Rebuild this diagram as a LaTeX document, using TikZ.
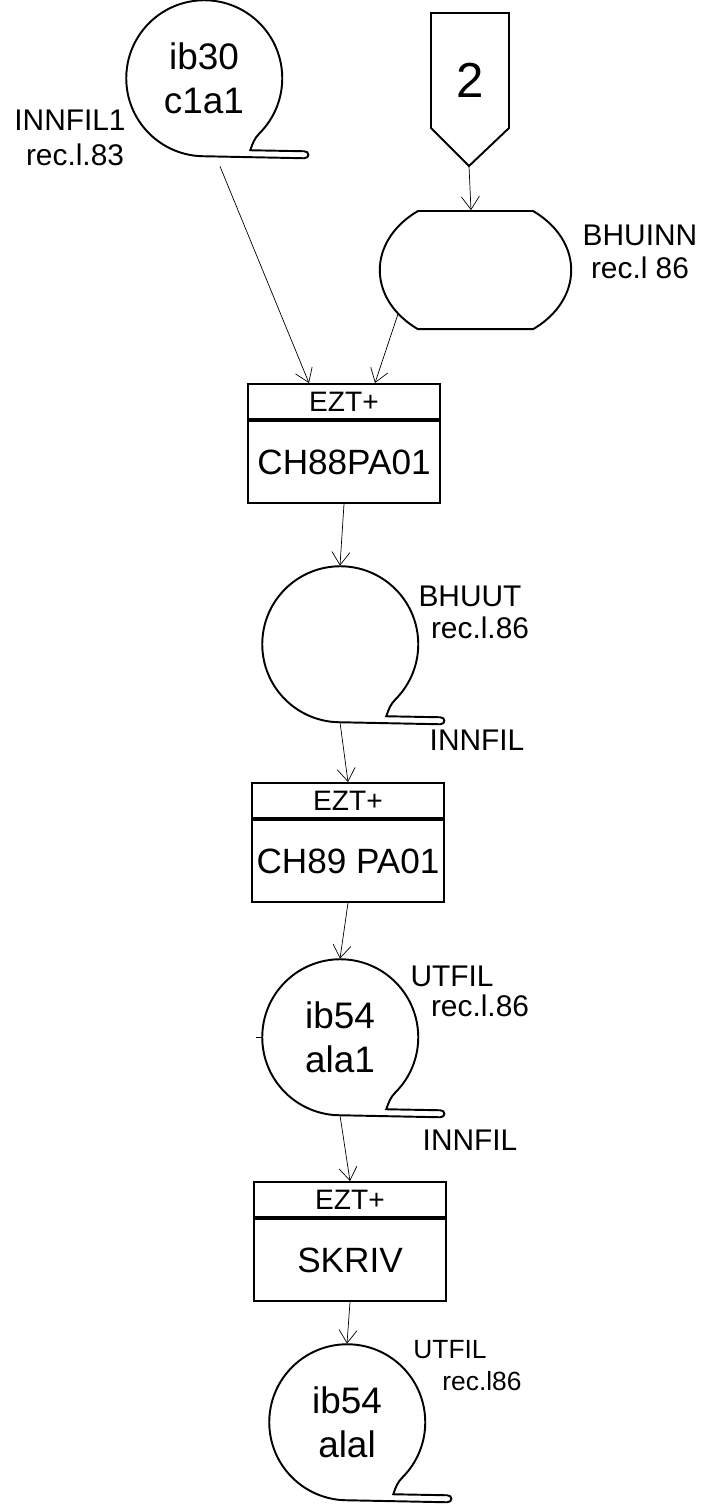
\documentclass[tikz,border=0pt]{standalone}
\usepackage{fontspec}
\setmainfont{Liberation Sans}
\usetikzlibrary{
    arrows.meta,
    calc,
    positioning
}
\tikzset{
    shape line/.style={line width=1.1pt},
    flow/.style={thin, -{Straight Barb[length=2.6mm,width=3.6mm]}},
    tape/.style={circle, minimum size=31.2mm, inner sep=0pt, align=center,
        font=\fontsize{21}{25}\selectfont},
    prog head/.style={draw, shape line, minimum width=38.5mm, minimum height=7mm,
        inner sep=0pt, font=\fontsize{16}{18}\selectfont},
    prog/.style={draw, shape line, minimum width=38.5mm, minimum height=16.4mm,
        inner sep=0pt, font=\fontsize{20}{22}\selectfont},
    lbl/.style={inner sep=0pt, font=\fontsize{17}{19}\selectfont}
}
\newcommand{\tapetail}[1]{%
    \draw[shape line] (#1.-45) arc[start angle=-45, end angle=270, radius=15.6mm]
        -- ++(100,-2) to[out=0, in=0, looseness=2] ++(0,7) -- ++(-54,1)
        to[out=70, in=-135] (#1.-45);}

\begin{document}
\begin{tikzpicture}[x=0.2mm, y=0.2mm]
    \useasboundingbox (0,0) rectangle (710,-1504);

    \node[tape] (t1) at (204,-78) {ib30\\c1a1};
    \node[tape] (t2) at (340,-644) {};
    \node[tape] (t3) at (340,-1037) {ib54\\ala1};
    \node[tape] (t4) at (347,-1422) {ib54\\alal};
    \tapetail{t1}
    \tapetail{t2}
    \tapetail{t3}
    \tapetail{t4}
    \draw ([xshift=-1.2mm]t3.west) -- (t3.west);

    \coordinate (c2 tip) at (469,-166);
    \draw[shape line] (431,-13) -- (509,-13) -- (509,-128) -- (c2 tip) -- (431,-128) -- cycle;
    \node[font=\fontsize{28}{30}\selectfont] (c2) at (470,-80) {2};

    \node[minimum width=38.4mm, minimum height=23.8mm] (bhuinn) at (476,-270) {};
    \draw[shape line] ($(bhuinn.center)+(-57,59)$) -- ($(bhuinn.center)+(57,59)$)
        arc[start angle=53, end angle=-53, x radius=19.2mm, y radius=14.8mm]
        -- ++(-115,0)
        arc[start angle=233, end angle=127, x radius=19.2mm, y radius=14.8mm] -- cycle;
    \coordinate (bhuinn out) at ($(bhuinn.center)+(-78,-44)$);

    \node[prog head] (h1) at (344,-401.5) {EZT+};
    \node[prog, below=0pt of h1] (p1) {CH88PA01};
    \node[prog head] (h2) at (348,-800.5) {EZT+};
    \node[prog, below=0pt of h2] (p2) {CH89 PA01};
    \node[prog head] (h3) at (350,-1199.5) {EZT+};
    \node[prog, below=0pt of h3] (p3) {SKRIV};

    \draw[flow] ([xshift=3.2mm,yshift=-2mm]t1.south) -- ([xshift=-7mm]h1.north);
    \draw[flow] (bhuinn out) -- ([xshift=6.2mm]h1.north);
    \draw[flow] (c2 tip) -- ([xshift=-1mm]bhuinn.north);
    \draw[flow] (p1.south) -- (t2.north);
    \draw[flow] (t2.south) -- (h2.north);
    \draw[flow] (p2.south) -- (t3.north);
    \draw[flow] (t3.south) -- (h3.north);
    \draw[flow] (p3.south) -- (t4.north);

    \node[lbl] (innfil1) at (70,-120) {INNFIL1};
    \node[lbl] (rec1) at (75,-155) {rec.l.83};
    \node[lbl] (bhuinn lbl) at (640,-235) {BHUINN};
    \node[lbl] (rec2) at (640,-268) {rec.l 86};
    \node[lbl] (bhuut) at (470,-596) {BHUUT};
    \node[lbl] (rec3) at (480,-628) {rec.l.86};
    \node[lbl] (innfil2) at (477,-740) {INNFIL};
    \node[lbl] (utfil3) at (452,-976) {UTFIL};
    \node[lbl] (rec4) at (480,-1006) {rec.l.86};
    \node[lbl] (innfil3) at (470,-1140) {INNFIL};
    \node[lbl, font=\fontsize{15}{17}\selectfont] (utfil4) at (450,-1350) {UTFIL};
    \node[lbl, font=\fontsize{15}{17}\selectfont] (rec5) at (482,-1381) {rec.l86};
\end{tikzpicture}
\end{document}
